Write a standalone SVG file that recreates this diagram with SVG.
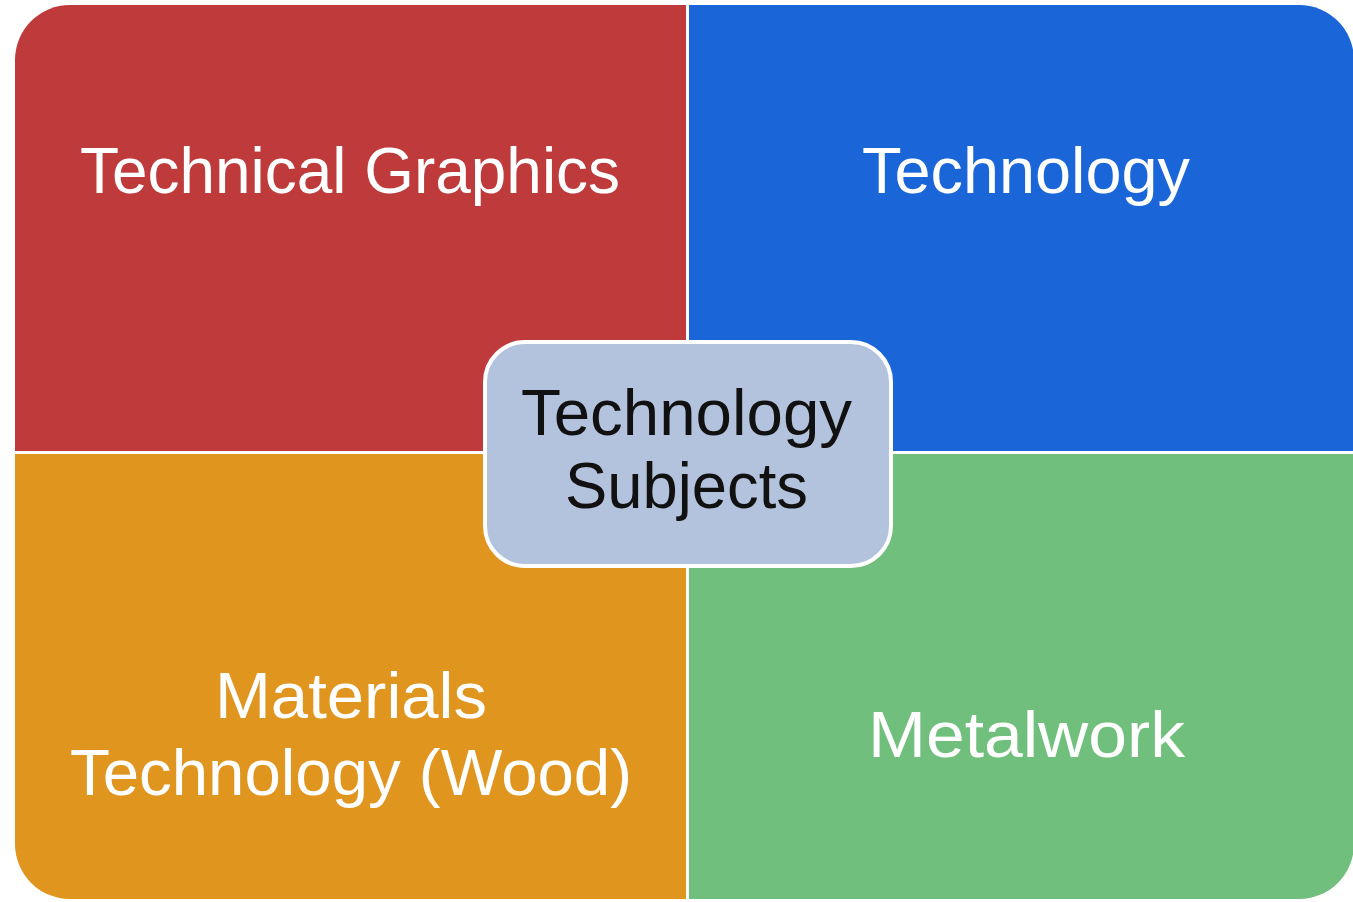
<svg xmlns="http://www.w3.org/2000/svg" width="1353" height="902" viewBox="0 0 1353 902">
<style>
.lbl{font-family:"Liberation Sans","Open Sans",sans-serif;font-size:65px;fill:#ffffff;}
.ctr{font-family:"Liberation Sans","Open Sans",sans-serif;font-size:65px;fill:#111111;}
</style>
<rect width="1353" height="902" fill="#ffffff"/>
<g id="technical-graphics">
<path d="M15,451 V60 A55,55 0 0 1 70,5 H686 V451 Z" fill="#BF3B3B"/>
<text class="lbl" x="80" y="193" textLength="540" lengthAdjust="spacingAndGlyphs">Technical Graphics</text>
</g>
<g id="technology">
<path d="M689,5 H1299 A55,55 0 0 1 1354,60 V451 H689 Z" fill="#1A66D9"/>
<text class="lbl" x="862" y="193" textLength="328" lengthAdjust="spacingAndGlyphs">Technology</text>
</g>
<g id="materials-technology">
<path d="M15,454 H686 V899 H70 A55,55 0 0 1 15,844 Z" fill="#E0951F"/>
<text class="lbl" x="215" y="718" textLength="272" lengthAdjust="spacingAndGlyphs">Materials</text>
<text class="lbl" x="70" y="795" textLength="562" lengthAdjust="spacingAndGlyphs">Technology (Wood)</text>
</g>
<g id="metalwork">
<path d="M689,454 H1354 V844 A55,55 0 0 1 1299,899 H689 Z" fill="#71BF7C"/>
<text class="lbl" x="868" y="757" textLength="317" lengthAdjust="spacingAndGlyphs">Metalwork</text>
</g>
<g id="connectors"></g>
<g id="technology-subjects">
<rect x="485" y="342" width="406" height="224" rx="40" ry="40" fill="#B4C3DD" stroke="#ffffff" stroke-width="4"/>
<text class="ctr" x="521" y="435" textLength="331" lengthAdjust="spacingAndGlyphs">Technology</text>
<text class="ctr" x="565" y="508" textLength="243" lengthAdjust="spacingAndGlyphs">Subjects</text>
</g>
</svg>
